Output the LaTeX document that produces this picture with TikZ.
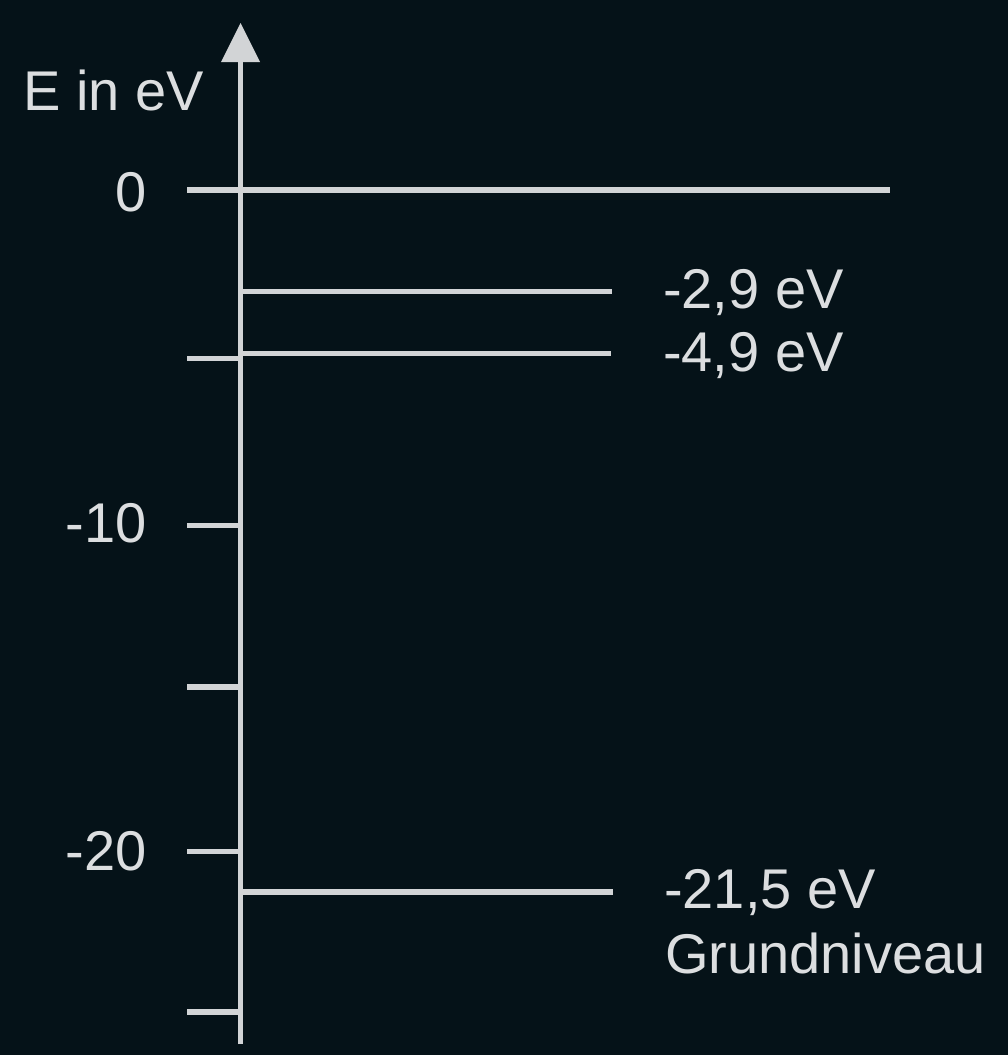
\documentclass[tikz,border=0pt]{standalone}
\usepackage{fontspec}
\setmainfont{Liberation Sans}
\definecolor{bg}{RGB}{5,18,24}
\definecolor{fg}{RGB}{210,212,214}
\definecolor{txt}{RGB}{220,222,224}
\begin{document}
\begin{tikzpicture}[x=1pt,y=-1pt,
  lvl/.style={draw=fg,line width=5.5pt},
  lab/.style={text=txt,inner sep=0pt,font=\fontsize{56}{62}\selectfont}]
\fill[bg] (0,0) rectangle (1008,1055);
\useasboundingbox (0,0) rectangle (1008,1055);
% axis
\coordinate (axbot) at (240.5,1044);
\coordinate (axtop) at (240.5,58);
\draw[lvl] (axbot) -- (axtop);
\fill[fg] (240.5,23) -- (260,62) -- (221,62) -- cycle;
% ticks
\foreach \y in {358.5,525.7,687,851.5,1012}
  \draw[lvl] (187,\y) -- (240.5,\y);
% levels
\draw[lvl] (187,190) -- (890,190);
\draw[lvl] (240.5,291.5) -- (612,291.5);
\draw[lvl] (240.5,353.3) -- (611,353.3);
\draw[lvl] (240.5,892) -- (613,892);
% labels
\node[lab,anchor=base west] (ax) at (23,110) {E in eV};
\node[lab,anchor=base east] (t0) at (147,211) {0};
\node[lab,anchor=base east] (t10) at (147,542) {-10};
\node[lab,anchor=base east] (t20) at (147,870) {-20};
\node[lab,anchor=base west] (l1) at (663,308) {-2,9 eV};
\node[lab,anchor=base west] (l2) at (663,371) {-4,9 eV};
\node[lab,anchor=base west] (l3) at (664,908) {-21,5 eV};
\node[lab,anchor=base west] (l4) at (665,973) {Grundniveau};
\end{tikzpicture}
\end{document}
